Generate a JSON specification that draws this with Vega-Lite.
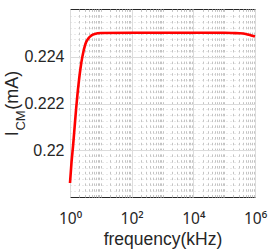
{
  "$schema": "https://vega.github.io/schema/vega-lite/v6.json",
  "width": 185,
  "height": 188,
  "autosize": {"type": "none"},
  "padding": {"left": 70, "top": 9, "right": 18, "bottom": 52},
  "background": "white",
  "config": {
    "font": "Liberation Sans",
    "view": {"stroke": "#262626", "strokeWidth": 1},
    "axis": {
      "labelColor": "#262626",
      "titleColor": "#262626",
      "domain": false,
      "ticks": false,
      "labelFont": "Liberation Sans",
      "titleFont": "Liberation Sans",
      "titleFontWeight": "normal"
    }
  },
  "data": {
    "values": [
      {"f": 1, "i": 0.2186},
      {"f": 1.122, "i": 0.2195},
      {"f": 1.259, "i": 0.2202},
      {"f": 1.413, "i": 0.2210},
      {"f": 1.585, "i": 0.2218},
      {"f": 1.778, "i": 0.2225},
      {"f": 1.995, "i": 0.2231},
      {"f": 2.239, "i": 0.2236},
      {"f": 2.512, "i": 0.2240},
      {"f": 3.162, "i": 0.22455},
      {"f": 3.981, "i": 0.2248},
      {"f": 5.012, "i": 0.22492},
      {"f": 6.31, "i": 0.22498},
      {"f": 10, "i": 0.22502},
      {"f": 100, "i": 0.22503},
      {"f": 1000, "i": 0.22503},
      {"f": 10000, "i": 0.22503},
      {"f": 100000, "i": 0.22503},
      {"f": 199526, "i": 0.22502},
      {"f": 316228, "i": 0.22501},
      {"f": 501187, "i": 0.22498},
      {"f": 707946, "i": 0.22493},
      {"f": 1000000, "i": 0.22487}
    ]
  },
  "layer": [
    {
      "mark": {"type": "line", "strokeOpacity": 0},
      "encoding": {
        "x": {
          "field": "f", "type": "quantitative",
          "scale": {"type": "log", "domain": [1, 1000000], "nice": false},
          "axis": {
            "orient": "top",
            "values": [2,3,4,5,6,7,8,9,10,20,30,40,50,60,70,80,90,200,300,400,500,600,700,800,900,1000,2000,3000,4000,5000,6000,7000,8000,9000,20000,30000,40000,50000,60000,70000,80000,90000,100000,200000,300000,400000,500000,600000,700000,800000,900000],
            "labels": false,
            "grid": true,
            "gridColor": "#c4c4c4",
            "gridDash": [2.5, 3.3],
            "title": "CM",
            "titleAngle": 270,
            "titleX": -46,
            "titleY": 111,
            "titleFontSize": 13,
            "titleAlign": "center",
            "titleBaseline": "alphabetic"
          }
        },
        "y": {
          "field": "i", "type": "quantitative",
          "scale": {"domain": [0.218, 0.22605], "nice": false, "zero": false},
          "axis": {
            "orient": "right",
            "values": [0.21825,0.2185,0.21875,0.219,0.21925,0.2195,0.21975,0.22025,0.2205,0.22075,0.221,0.22125,0.2215,0.22175,0.22225,0.2225,0.22275,0.223,0.22325,0.2235,0.22375,0.22425,0.2245,0.22475,0.225,0.22525,0.2255,0.22575],
            "labels": false,
            "grid": true,
            "gridColor": "#d4d4d4",
            "gridDash": [1, 3],
            "title": null
          }
        }
      }
    },
    {
      "mark": {"type": "line", "color": "#ff0000", "strokeWidth": 2.6, "interpolate": "monotone"},
      "encoding": {
        "x": {
          "field": "f", "type": "quantitative",
          "scale": {"type": "log", "domain": [1, 1000000], "nice": false},
          "axis": {
            "orient": "bottom",
            "values": [1, 100, 10000, 1000000],
            "labelExpr": "datum.value == 1 ? '10⁰' : datum.value == 100 ? '10²' : datum.value == 10000 ? '10⁴' : '10⁶'",
            "labelFont": "Noto Sans",
            "labelFontSize": 15.5,
            "labelBaseline": "alphabetic",
            "labelPadding": 26.5,
            "labelFlush": false,
            "grid": true,
            "gridColor": "#dcdcdc",
            "title": "frequency(kHz)",
            "titleFontSize": 17.5,
            "titleBaseline": "alphabetic",
            "titleY": 47
          }
        },
        "y": {
          "field": "i", "type": "quantitative",
          "scale": {"domain": [0.218, 0.22605], "nice": false, "zero": false},
          "axis": {
            "orient": "left",
            "values": [0.22, 0.222, 0.224],
            "labelExpr": "format(datum.value, '.3~f')",
            "labelFontSize": 16,
            "labelPadding": 6,
            "grid": true,
            "gridColor": "#dcdcdc",
            "title": "I\u2002\u2002\u2009(mA)",
            "titleFontSize": 18,
            "titleAngle": 270,
            "titleX": -53,
            "titleY": 94,
            "titleAlign": "center",
            "titleBaseline": "alphabetic"
          }
        }
      }
    }
  ],
  "resolve": {"axis": {"x": "independent", "y": "independent"}}
}
